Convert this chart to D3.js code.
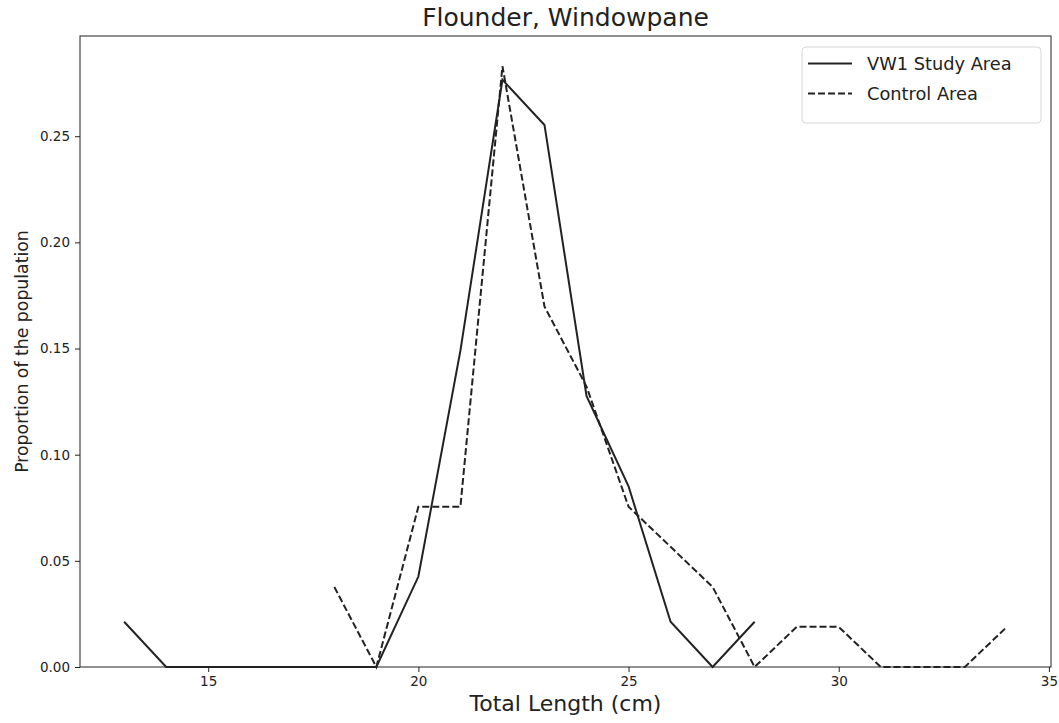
<!DOCTYPE html>
<html>
<head>
<meta charset="utf-8">
<script src="https://cdn.jsdelivr.net/npm/d3@7"></script>
<style>
  body { margin: 0; background: #fff; }
  svg { font-family: "DejaVu Sans", sans-serif; }
</style>
</head>
<body>
<div id="chart"></div>
<script>
// lengths (cm) and proportions
const studyLengths = [13, 14, 15, 16, 17, 18, 19, 20, 21, 22, 23, 24, 25, 26, 27, 28];
const studyValues = [0.0213, 0, 0, 0, 0, 0, 0, 0.0426, 0.149, 0.2766, 0.2553, 0.1277, 0.0851, 0.0213, 0, 0.0213];
const controlLengths = [18, 19, 20, 21, 22, 23, 24, 25, 26, 27, 28, 29, 30, 31, 32, 33, 34];
const controlValues = [0.0377, 0, 0.0755, 0.0755, 0.283, 0.1698, 0.1321, 0.0755, 0.0566, 0.0377, 0, 0.0189, 0.0189, 0, 0, 0, 0.0189];
const xTicks = [15, 20, 25, 30, 35];
const yTicks = [0, 0.05, 0.10, 0.15, 0.20, 0.25];
const seriesNames = ["VW1 Study Area", "Control Area"];

const width = 1059, height = 723;
const plotLeft = 80, plotRight = 1051, plotTop = 36, plotBottom = 667;
const ink = "#222";

const svg = d3.select("#chart").append("svg")
  .attr("width", width)
  .attr("height", height);

const x = d3.scaleLinear().domain([11.95, 35.05]).range([plotLeft, plotRight]);
const y = d3.scaleLinear().domain([0, 0.2972]).range([plotBottom, plotTop]);

// axes
const xAxis = svg.append("g")
  .attr("transform", "translate(0," + plotBottom + ")")
  .call(d3.axisBottom(x).tickValues(xTicks).tickSize(5).tickPadding(4).tickFormat(d3.format("d")));
const yAxis = svg.append("g")
  .attr("transform", "translate(" + plotLeft + ",0)")
  .call(d3.axisLeft(y).tickValues(yTicks).tickSize(5).tickPadding(5).tickFormat(d3.format(".2f")));
[xAxis, yAxis].forEach(a => {
  a.select(".domain").remove();
  a.selectAll("line").attr("stroke", ink).attr("stroke-width", 1);
  a.selectAll("text").attr("fill", ink).attr("font-size", "13.5px").attr("font-family", "DejaVu Sans");
});

// frame
svg.append("rect")
  .attr("x", plotLeft).attr("y", plotTop)
  .attr("width", plotRight - plotLeft).attr("height", plotBottom - plotTop)
  .attr("fill", "none").attr("stroke", ink).attr("stroke-width", 1);

// lines
const line = d3.line().x(d => x(d[0])).y(d => y(d[1]));
svg.append("path")
  .datum(d3.zip(studyLengths, studyValues))
  .attr("d", line)
  .attr("fill", "none").attr("stroke", ink).attr("stroke-width", 2);
svg.append("path")
  .datum(d3.zip(controlLengths, controlValues))
  .attr("d", line)
  .attr("fill", "none").attr("stroke", ink).attr("stroke-width", 2)
  .attr("stroke-dasharray", "7,3");

// title and labels
svg.append("text")
  .attr("x", (plotLeft + plotRight) / 2).attr("y", 26)
  .attr("text-anchor", "middle").attr("font-size", "25px").attr("fill", ink)
  .text("Flounder, Windowpane");
svg.append("text")
  .attr("x", (plotLeft + plotRight) / 2).attr("y", 711)
  .attr("text-anchor", "middle").attr("font-size", "22px").attr("fill", ink)
  .text("Total Length (cm)");
svg.append("text")
  .attr("transform", "translate(28," + ((plotTop + plotBottom) / 2) + ") rotate(-90)")
  .attr("text-anchor", "middle").attr("font-size", "17.3px").attr("fill", ink)
  .text("Proportion of the population");

// legend
const legend = svg.append("g");
legend.append("rect")
  .attr("x", 802).attr("y", 47).attr("width", 239).attr("height", 76)
  .attr("rx", 4).attr("fill", "#fff").attr("fill-opacity", 0.8)
  .attr("stroke", "#d6d6d6").attr("stroke-width", 1);
seriesNames.forEach((name, i) => {
  const ly = 63.5 + i * 30;
  legend.append("line")
    .attr("x1", 808).attr("x2", 852).attr("y1", ly).attr("y2", ly)
    .attr("stroke", ink).attr("stroke-width", 2)
    .attr("stroke-dasharray", i == 1 ? "7,3" : null);
  legend.append("text")
    .attr("x", 867).attr("y", ly + 6.5)
    .attr("font-size", "17.8px").attr("fill", ink)
    .text(name);
});
</script>
</body>
</html>
